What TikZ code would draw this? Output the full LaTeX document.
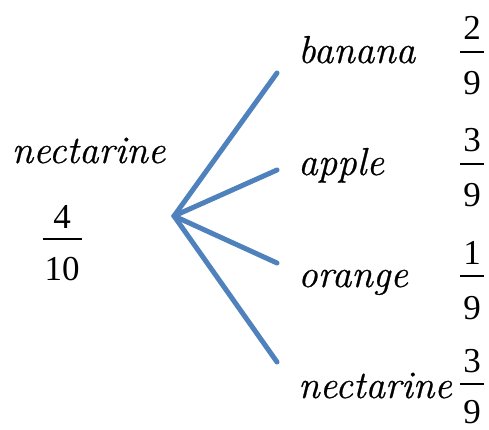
\documentclass[tikz,border=0pt]{standalone}
\usepackage{fontspec}
\setmainfont{Liberation Serif}
\newfontfamily\digitfont{Liberation Serif}
\newfontfamily\wordfont[ItalicFeatures={FakeBold=0.6}]{Latin Modern Roman}
\definecolor{branchblue}{RGB}{79,129,189}
\begin{document}
\begin{tikzpicture}[x=1pt,y=-1pt,
  word/.style={inner sep=0pt, font=\wordfont\fontsize{39}{46}\selectfont\itshape},
  digit/.style={inner sep=0pt, anchor=base, font=\digitfont\fontsize{35}{42}\selectfont},
  branch/.style={draw=branchblue, line width=5pt, line cap=round},
  fracbar/.style={draw=black, line width=1.8pt}]
\useasboundingbox (0,0) rectangle (489,430);
% left item
\node[word, anchor=base] (root) at (88.5,163) {nectarine};
\node[digit] (rn) at (62,228) {4};
\node[digit] (rd) at (62,280) {10};
\draw[fracbar] (43,239) -- (82,239);
% branches
\coordinate (hub) at (174,216);
\coordinate (e1) at (277,73);
\coordinate (e2) at (277,170);
\coordinate (e3) at (277,263);
\coordinate (e4) at (277,362);
\draw[branch] (hub) -- (e1);
\draw[branch] (hub) -- (e2);
\draw[branch] (hub) -- (e3);
\draw[branch] (hub) -- (e4);
% right items
\node[word, anchor=base west] (w1) at (298,63) {banana};
\node[word, anchor=base west] (w2) at (298,175) {apple};
\node[word, anchor=base west] (w3) at (298,287) {orange};
\node[word, anchor=base west] (w4) at (298,398) {nectarine};
\node[digit] (n1) at (472,40) {2};
\node[digit] (d1) at (472,95) {9};
\draw[fracbar] (460,52) -- (484,52);
\node[digit] (n2) at (472,152) {3};
\node[digit] (d2) at (472,207) {9};
\draw[fracbar] (460,164) -- (484,164);
\node[digit] (n3) at (472,264) {1};
\node[digit] (d3) at (472,319) {9};
\draw[fracbar] (460,276) -- (484,276);
\node[digit] (n4) at (472,372) {3};
\node[digit] (d4) at (472,423) {9};
\draw[fracbar] (460,384) -- (484,384);
\end{tikzpicture}
\end{document}
